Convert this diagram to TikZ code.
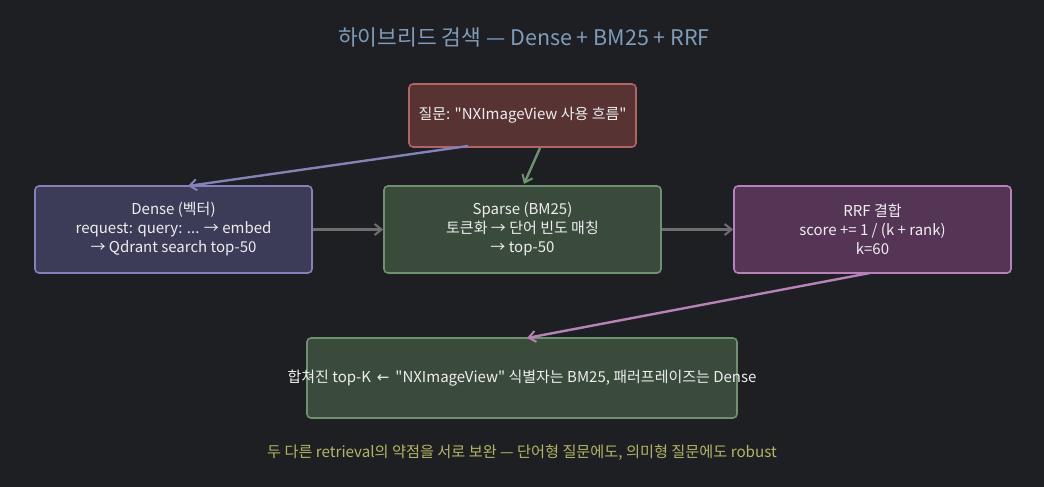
\documentclass[tikz,border=0pt]{standalone}
\usepackage{fontspec}
\setmainfont{Noto Sans CJK KR}
\newfontfamily\kr{Noto Sans CJK KR}
\newfontfamily\arr{DejaVu Sans}
\usetikzlibrary{arrows.meta}
\definecolor{bg}{HTML}{1E1F22}
\definecolor{txt}{HTML}{EEEEEE}
\definecolor{titlec}{HTML}{7F9DBA}
\definecolor{footc}{HTML}{B5B565}
\definecolor{qfill}{HTML}{573333}
\definecolor{qdraw}{HTML}{B06464}
\definecolor{dfill}{HTML}{3C3B58}
\definecolor{ddraw}{HTML}{8482B8}
\definecolor{gfill}{HTML}{3A4A3B}
\definecolor{gdraw}{HTML}{6E9270}
\definecolor{rfill}{HTML}{553555}
\definecolor{rdraw}{HTML}{B782B8}
\definecolor{grey}{HTML}{6E6E6E}
\tikzset{
  box/.style={rounded corners=4pt, line width=1.6pt, text=txt, align=center,
    font=\kr\fontsize{15}{19}\selectfont, inner sep=0pt},
  conn/.style={line width=2.4pt, -{Straight Barb[length=7pt,width=11pt,line width=2pt]}},
}
\begin{document}
\begin{tikzpicture}[x=1pt,y=-1pt]
\fill[bg] (0,0) rectangle (1044,487);
\useasboundingbox (0,0) rectangle (1044,487);
\node[text=titlec, font=\kr\fontsize{21.5}{24}\selectfont] (title) at (524,37) {하이브리드 검색 — Dense + BM25 + RRF};
\node[box, fill=qfill, draw=qdraw, minimum width=227pt, minimum height=63pt] (q) at (522.5,115.5) {\makebox[0pt]{질문: "NXImageView 사용 흐름"}};
\node[box, fill=dfill, draw=ddraw, minimum width=277pt, minimum height=87pt] (d) at (173.5,229.5) {Dense (벡터)\\request: query: ... → embed\\→ Qdrant search top-50};
\node[box, fill=gfill, draw=gdraw, minimum width=277pt, minimum height=87pt] (s) at (522.5,229.5) {Sparse (BM25)\\토큰화 → 단어 빈도 매칭\\→ top-50};
\node[box, fill=rfill, draw=rdraw, minimum width=277pt, minimum height=87pt] (r) at (872.5,229.5) {RRF 결합\\score += 1 / (k + rank)\\k=60};
\node[box, fill=gfill, draw=gdraw, minimum width=430pt, minimum height=80pt] (res) at (522,378) {\makebox[0pt]{합쳐진 top-K \,{\arr ←}\, "NXImageView" 식별자는 BM25, 패러프레이즈는 Dense}};
\node[text=footc, font=\kr\fontsize{15.2}{17}\selectfont] (foot) at (522,453) {두 다른 retrieval의 약점을 서로 보완 — 단어형 질문에도, 의미형 질문에도 robust};
\coordinate (qa) at (468,146);
\coordinate (da) at (188,186);
\coordinate (qb) at (540,148);
\coordinate (sb) at (524,184);
\coordinate (ra) at (870,273);
\coordinate (resa) at (527,338);
\draw[conn, draw=ddraw] (qa) -- (da);
\draw[conn, draw=gdraw] (qb) -- (sb);
\draw[conn, draw=grey] (d.east) -- (s.west);
\draw[conn, draw=grey] (s.east) -- (r.west);
\draw[conn, draw=rdraw] (ra) -- (resa);
\end{tikzpicture}
\end{document}
